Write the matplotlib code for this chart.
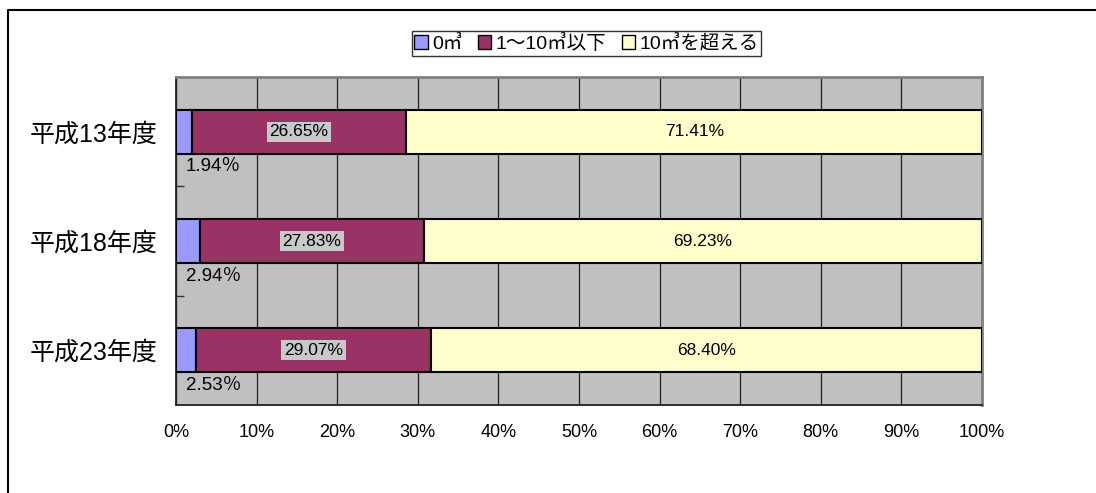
import matplotlib
matplotlib.use("Agg")
import matplotlib.pyplot as plt
from matplotlib.lines import Line2D
from matplotlib.patches import Patch

plt.rcParams['font.family'] = ['Liberation Sans', 'Noto Sans CJK JP', 'DejaVu Sans']

# 年度別の割合 (%)
cats = ['平成13年度', '平成18年度', '平成23年度']
zero = [1.94, 2.94, 2.53]
mid = [26.65, 27.83, 29.07]
over = [71.41, 69.23, 68.40]
series_names = ['0㎥', '1～10㎥以下', '10㎥を超える']
colors = ['#9999FF', '#993366', '#FFFFCC']
xticks = [0, 10, 20, 30, 40, 50, 60, 70, 80, 90, 100]

fig = plt.figure(figsize=(10.96, 4.93), dpi=100)
ax = fig.add_axes([176 / 1096, 0.1785, 806 / 1096, 0.6653])
ax.set_facecolor('#C0C0C0')

pos = list(range(len(cats)))
left2 = [a for a in zero]
left3 = [a + b for a, b in zip(zero, mid)]
ax.barh(pos, zero, height=0.4, color=colors[0], edgecolor='black', linewidth=1.5, zorder=3)
ax.barh(pos, mid, left=left2, height=0.4, color=colors[1], edgecolor='black', linewidth=1.5, zorder=3)
ax.barh(pos, over, left=left3, height=0.4, color=colors[2], edgecolor='black', linewidth=1.5, zorder=3)

for i in pos:
    ax.text(left2[i] + mid[i] / 2, i, '%.2f%%' % mid[i], ha='center', va='center',
            fontsize=12.5, zorder=4,
            bbox=dict(boxstyle='square,pad=0.15', fc='#C8C8C8', ec='none'))
    ax.text(left3[i] + over[i] / 2, i, '%.2f%%' % over[i], ha='center', va='center',
            fontsize=12.5, zorder=4)
    ax.annotate('%.2f％' % zero[i], xy=(0, i + 0.2), xytext=(7, -9.5),
                textcoords='offset points', ha='left', va='center',
                fontsize=13.5, zorder=4)

ax.set_xlim(0, 100)
ax.set_ylim(len(cats) - 0.5, -0.5)
ax.set_xticks(xticks)
ax.set_xticklabels(['%d%%' % t for t in xticks], fontsize=13)
ax.set_yticks(pos)
ax.set_yticklabels(cats, fontsize=18)
ax.set_yticks([0.5, 1.5], minor=True)
ax.tick_params(axis='x', length=0, pad=14)
ax.tick_params(axis='y', which='major', length=0, pad=13)
ax.tick_params(axis='y', which='minor', direction='in', length=6, width=1, color='#333333')
ax.grid(axis='x', color='#202020', linewidth=0.9, zorder=1)

for s in ['left', 'bottom']:
    ax.spines[s].set_color('#202020')
    ax.spines[s].set_linewidth(1.3)
for s in ['top', 'right']:
    ax.spines[s].set_color('#808080')
    ax.spines[s].set_linewidth(2)

handles = [Patch(facecolor=c, edgecolor='black', linewidth=1) for c in colors]
leg = fig.legend(handles, series_names, loc='center', bbox_to_anchor=(0.535, 0.912),
                 ncol=3, fontsize=14, frameon=True, fancybox=False,
                 handlelength=0.7, handleheight=0.7, handletextpad=0.2,
                 columnspacing=0.8, borderpad=0.15, borderaxespad=0)
leg.get_frame().set_edgecolor('black')
leg.get_frame().set_linewidth(1)

# 外枠
fig.add_artist(Line2D([8 / 1096, 8 / 1096, 1.0], [0.0, 1 - 10 / 493, 1 - 10 / 493],
                      transform=fig.transFigure, color='black', linewidth=1.5))

fig.savefig('out.png', dpi=100)
